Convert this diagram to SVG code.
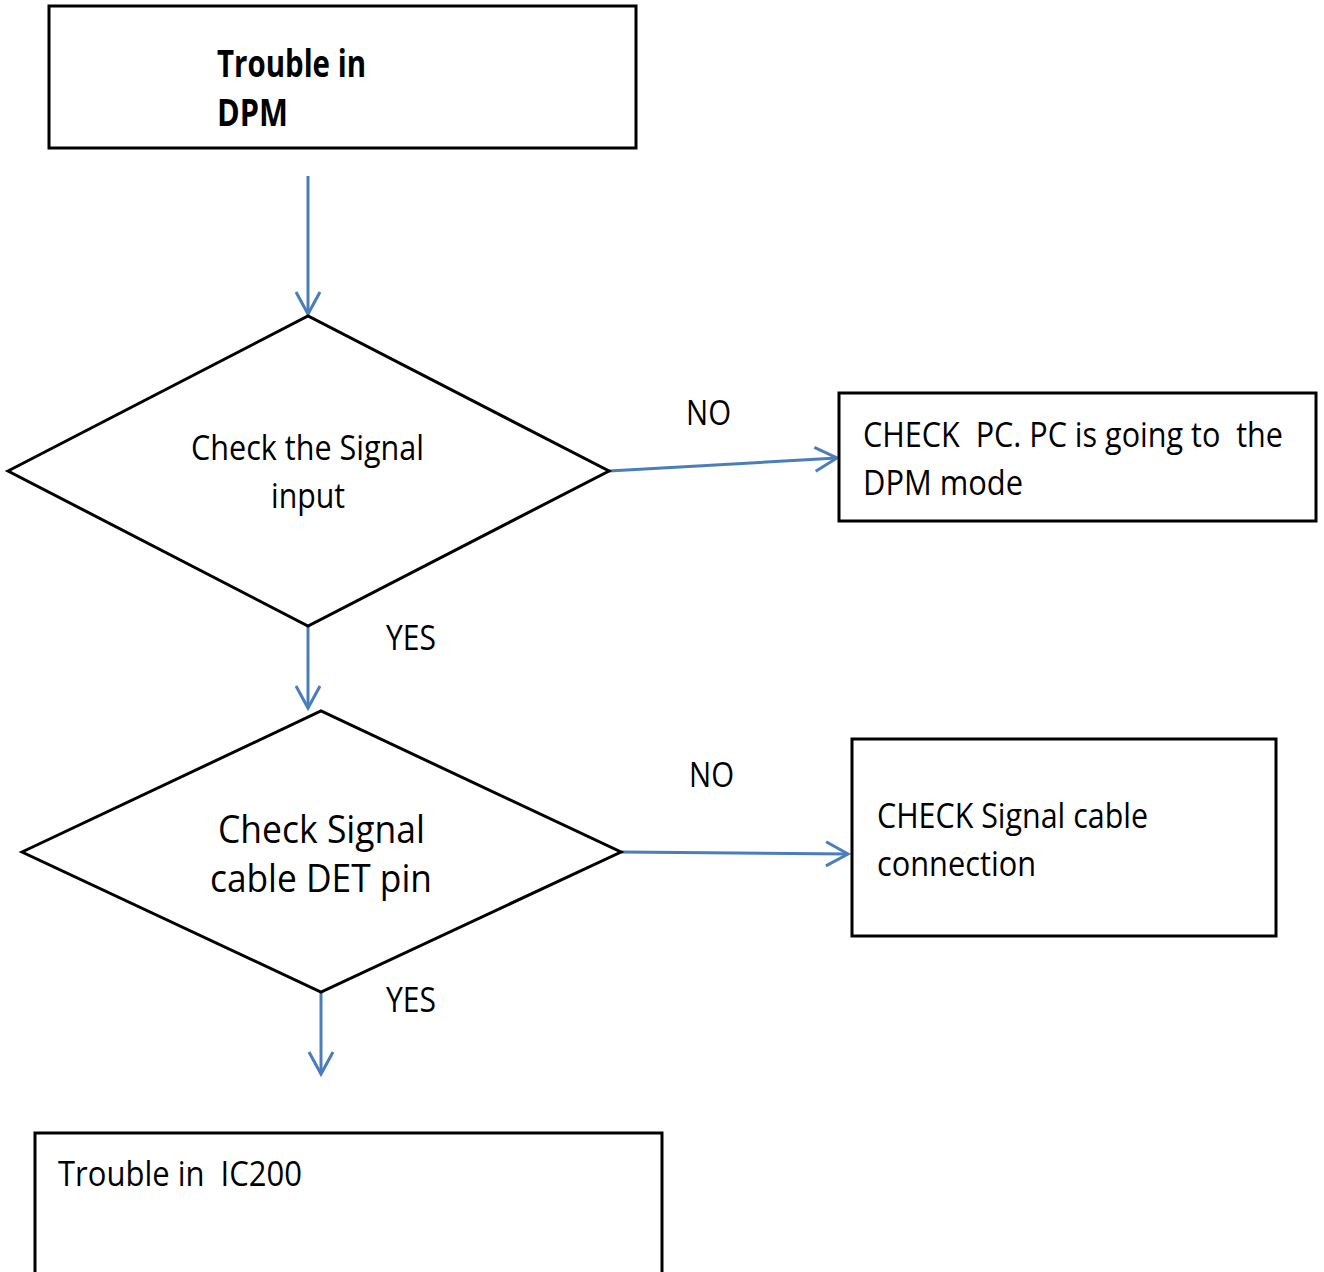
<svg xmlns="http://www.w3.org/2000/svg" width="1324" height="1272" viewBox="0 0 1324 1272">
<style>
.box{fill:#fff;stroke:#000;stroke-width:3}
.t{font-family:"Open Sans","Liberation Sans",sans-serif;fill:#000;white-space:pre}
.b{font-weight:bold}
.c{fill:none;stroke:#4a7ebb;stroke-width:3}
</style>
<defs>
<marker id="arr" markerUnits="userSpaceOnUse" viewBox="-26 -16 30 32" refX="0" refY="0" markerWidth="30" markerHeight="32" orient="auto">
<path d="M-22,-12 L0,0 L-22,12" fill="none" stroke="#4a7ebb" stroke-width="3"/>
</marker>
</defs>
<rect width="1324" height="1272" fill="#fff"/>
<g id="connectors">
<line class="c" x1="308" y1="176" x2="308" y2="314" marker-end="url(#arr)"/>
<line class="c" x1="609" y1="471" x2="837" y2="458" marker-end="url(#arr)"/>
<line class="c" x1="308" y1="626" x2="308" y2="708" marker-end="url(#arr)"/>
<line class="c" x1="621" y1="852" x2="848" y2="854" marker-end="url(#arr)"/>
<line class="c" x1="321" y1="992" x2="321" y2="1074" marker-end="url(#arr)"/>
<text class="t" x="686" y="425" font-size="34" textLength="45" lengthAdjust="spacingAndGlyphs">NO</text>
<text class="t" x="386" y="650" font-size="34" textLength="50" lengthAdjust="spacingAndGlyphs">YES</text>
<text class="t" x="689" y="787" font-size="34" textLength="45" lengthAdjust="spacingAndGlyphs">NO</text>
<text class="t" x="386" y="1012" font-size="34" textLength="50" lengthAdjust="spacingAndGlyphs">YES</text>
</g>
<g id="start">
<rect class="box" x="49" y="6" width="587" height="142"/>
<text class="t b" x="217" y="77" font-size="37" textLength="149" lengthAdjust="spacingAndGlyphs">Trouble in</text>
<text class="t b" x="217" y="126" font-size="37" textLength="71" lengthAdjust="spacingAndGlyphs">DPM</text>
</g>
<g id="decision1">
<polygon class="box" points="8,471 308,316 609,471 308,626"/>
<text class="t" x="191" y="460" font-size="34" textLength="233" lengthAdjust="spacingAndGlyphs">Check the Signal</text>
<text class="t" x="271" y="508" font-size="34" textLength="74" lengthAdjust="spacingAndGlyphs">input</text>
</g>
<g id="checkpc">
<rect class="box" x="839" y="393" width="477" height="128"/>
<text class="t" x="863" y="447" font-size="34" textLength="420" lengthAdjust="spacingAndGlyphs" xml:space="preserve">CHECK  PC. PC is going to  the</text>
<text class="t" x="863" y="495" font-size="34" textLength="160" lengthAdjust="spacingAndGlyphs">DPM mode</text>
</g>
<g id="decision2">
<polygon class="box" points="22,852 321,711 621,852 321,992"/>
<text class="t" x="218" y="843" font-size="38" textLength="207" lengthAdjust="spacingAndGlyphs">Check Signal</text>
<text class="t" x="210" y="892" font-size="38" textLength="222" lengthAdjust="spacingAndGlyphs">cable DET pin</text>
</g>
<g id="checkcable">
<rect class="box" x="852" y="739" width="424" height="197"/>
<text class="t" x="877" y="828" font-size="34" textLength="271" lengthAdjust="spacingAndGlyphs">CHECK Signal cable</text>
<text class="t" x="877" y="876" font-size="34" textLength="159" lengthAdjust="spacingAndGlyphs">connection</text>
</g>
<g id="ic200">
<rect class="box" x="35" y="1133" width="627" height="160"/>
<text class="t" x="58" y="1186" font-size="34" textLength="244" lengthAdjust="spacingAndGlyphs" xml:space="preserve">Trouble in  IC200</text>
</g>
</svg>
